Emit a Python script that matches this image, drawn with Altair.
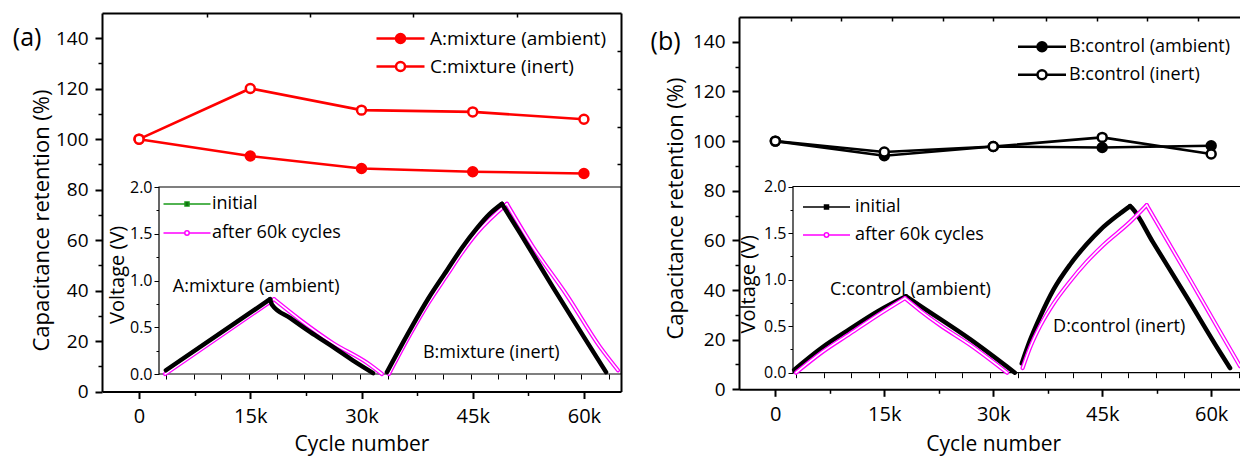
import altair as alt
import pandas as pd

FONT = "Open Sans"
W, H = 1240, 457

# ---------------- main panels: capacitance retention ----------------
cycles = [0, 15000, 30000, 45000, 60000]

a_series = ["A:mixture (ambient)", "C:mixture (inert)"]
a_ambient = [100, 93.3, 88.4, 87.1, 86.4]
a_inert = [100, 120.1, 111.5, 110.8, 107.9]

b_series = ["B:control (ambient)", "B:control (inert)"]
b_ambient = [100, 94.1, 97.8, 97.4, 98.1]
b_inert = [100, 95.6, 97.8, 101.5, 94.8]

panel_labels = ["(a)", "(b)"]
panel_label_cycle = [-15100, -15100]
panel_label_ret = [140, 140]

# ---------------- insets: charge/discharge voltage (time in tick units) ----------------
inset_series = ["initial", "after 60k cycles"]
inset_ytitle = "Voltage (V)"

# each inset curve is split in charge / discharge branches (peak shared)
a_init_seg = ["Ac"] * 2 + ["Ad"] * 7 + ["Bc"] * 8 + ["Bd"] * 5
a_init_t = [0.25, 4.01,
            4.01, 4.08, 4.73, 5.45, 6.28, 7.08, 7.73,
            8.23, 9.06, 9.73, 10.40, 10.94, 11.48, 11.93, 12.38,
            12.38, 13.03, 14.22, 15.31, 16.14]
a_init_v = [0.04, 0.80,
            0.80, 0.74, 0.60, 0.45, 0.29, 0.13, 0.01,
            0.02, 0.47, 0.81, 1.11, 1.35, 1.56, 1.71, 1.82,
            1.82, 1.51, 0.93, 0.41, 0.02]

a_after_seg = ["Ac"] * 2 + ["Ad"] * 5 + ["Bc"] * 7 + ["Bd"] * 5
a_after_t = [0.22, 4.15,
             4.15, 5.09, 6.28, 7.51, 8.05,
             8.30, 9.06, 9.73, 10.40, 10.94, 11.48, 12.56,
             12.56, 13.50, 14.73, 15.92, 16.57]
a_after_v = [0.00, 0.80,
             0.80, 0.58, 0.33, 0.12, 0.00,
             0.00, 0.42, 0.76, 1.06, 1.30, 1.51, 1.82,
             1.82, 1.36, 0.84, 0.29, 0.04]

b_init_seg = ["Cc"] * 5 + ["Cd"] * 4 + ["Dc"] * 9 + ["Dd"] * 6
b_init_t = [0.04, 1.05, 2.06, 3.07, 4.08,
            4.08, 4.58, 6.39, 8.01,
            8.26, 8.56, 8.92, 9.40, 10.00, 10.60, 11.08, 11.81, 12.17,
            12.17, 12.24, 13.00, 14.22, 15.42, 15.78]
b_init_v = [0.03, 0.27, 0.47, 0.66, 0.82,
            0.82, 0.72, 0.36, 0.00,
            0.10, 0.35, 0.60, 0.89, 1.16, 1.38, 1.53, 1.71, 1.79,
            1.79, 1.77, 1.40, 0.81, 0.22, 0.05]

b_after_seg = ["Cc"] * 5 + ["Cd"] * 5 + ["Dc"] * 9 + ["Dd"] * 4
b_after_t = [0.11, 1.05, 2.06, 3.07, 4.04,
             4.04, 4.58, 5.31, 6.39, 7.73,
             8.29, 8.56, 8.92, 9.40, 10.00, 10.60, 11.20, 12.17, 12.77,
             12.77, 14.22, 15.42, 16.14]
b_after_v = [0.00, 0.22, 0.42, 0.62, 0.80,
             0.80, 0.67, 0.51, 0.30, 0.00,
             0.05, 0.27, 0.50, 0.74, 0.98, 1.19, 1.37, 1.62, 1.80,
             1.80, 1.06, 0.44, 0.07]

a_notes = ["A:mixture (ambient)", "B:mixture (inert)"]
a_note_t = [0.50, 9.53]
a_note_v = [0.93, 0.22]
b_notes = ["C:control (ambient)", "D:control (inert)"]
b_note_t = [1.34, 9.39]
b_note_v = [0.885, 0.49]

# ---------------- layout (pixel ranges of each coordinate system) ----------------
PA = dict(mx_dom=[-5000, 65000], mx_rng=[102, 621], my_dom=[0, 150], my_rng=[391.5, 13],
          ix_dom=[0, 16.68], ix_rng=[159, 621], iy_dom=[0, 2], iy_rng=[374, 187])
PB = dict(mx_dom=[-5000, 65000], mx_rng=[739, 1247.5], my_dom=[0, 150], my_rng=[389.3, 17],
          ix_dom=[0, 16.41], ix_rng=[793, 1247.5], iy_dom=[0, 2], iy_rng=[372.7, 186.5])

PATH_MAIN = "M-4.8,0L-0.9,0M0.9,0L4.8,0M-0.9,0A0.9,0.9,0,1,1,0.9,0A0.9,0.9,0,1,1,-0.9,0Z"
PATH_SQ = "M-11.75,0L11.75,0M-1,-1L1,-1L1,1L-1,1Z"
PATH_CI = "M-11.75,0L-1.1,0M1.1,0L11.75,0M-1.1,0A1.1,1.1,0,1,1,1.1,0A1.1,1.1,0,1,1,-1.1,0Z"


def ax(orient, offset, values, tick=7, tickw=2.0, labels=True, domain=True, domw=2.0, **kw):
    return alt.Axis(orient=orient, offset=offset, values=values, tickSize=tick, tickWidth=tickw,
                    labels=labels, domain=domain, domainWidth=domw, domainColor="black",
                    tickColor="black", grid=False, labelColor="black", titleColor="black",
                    labelFont=FONT, titleFont=FONT, titleFontWeight="normal",
                    labelFlush=False, labelOverlap=False, **kw)


def X(field, dom, rng, axis=None):
    return alt.X(f"{field}:Q", scale=alt.Scale(domain=dom, range=rng, nice=False, zero=False), axis=axis)


def Y(field, dom, rng, axis=None):
    return alt.Y(f"{field}:Q", scale=alt.Scale(domain=dom, range=rng, nice=False, zero=False), axis=axis)


def main_df(series, amb, inert):
    return pd.DataFrame({"cycle": cycles * 2, "ret": amb + inert,
                         "series": [series[0]] * len(cycles) + [series[1]] * len(cycles)})


def inset_df(seg, t, v):
    return pd.DataFrame({"seg": seg, "t": t, "v": v})


def panel(P, series, amb, inert, color, label_idx, init, after, notes, init_color,
          leg_main, leg_in, top_ticks, right_ticks, ytitle_xy, vtitle_tv, black_on_top):
    layers = []
    dfm = main_df(series, amb, inert)
    xb_off = -(H - P["my_rng"][0])
    # main lines with major axes
    layers.append(alt.Chart(dfm).mark_line(color=color, strokeWidth=2.6).encode(
        x=X("cycle", P["mx_dom"], P["mx_rng"], ax(
            "bottom", xb_off, cycles, labelExpr="datum.value == 0 ? '0' : (datum.value / 1000) + 'k'",
            labelFontSize=20, labelPadding=8, title="Cycle number", titleFontSize=21,
            titleY=450.5 - P["my_rng"][0], titleBaseline="alphabetic")),
        y=Y("ret", P["my_dom"], P["my_rng"], ax(
            "left", -P["mx_rng"][0], list(range(0, 141, 20)), labelFontSize=19, labelPadding=7,
            title="Capacitance retention (%)", titleFontSize=22, titleX=ytitle_xy[0],
            titleY=ytitle_xy[1], titleAngle=270, titleBaseline="middle", titleAlign="center")),
        detail="series:N"))
    # points with legend, minor ticks
    layers.append(alt.Chart(dfm).mark_point(filled=True, shape="circle", size=80, stroke=color,
                                            strokeWidth=2.5, opacity=1).encode(
        x=X("cycle", P["mx_dom"], P["mx_rng"], ax("bottom", xb_off, [7500, 22500, 37500, 52500],
                                                   tick=4, tickw=1.5, labels=False, domain=False, title=None)),
        y=Y("ret", P["my_dom"], P["my_rng"], ax("left", -P["mx_rng"][0], list(range(10, 140, 20)),
                                                 tick=4, tickw=1.5, labels=False, domain=False, title=None)),
        fill=alt.Fill("series:N", scale=alt.Scale(domain=series, range=[color, "white"]),
                      legend=alt.Legend(orient="none", legendX=leg_main[0], legendY=leg_main[1], title=None,
                                        symbolType=PATH_MAIN, symbolSize=100, symbolStrokeColor=color,
                                        symbolStrokeWidth=2.5, symbolOpacity=1, labelFont=FONT,
                                        labelFontSize=leg_main[2], labelColor="black",
                                        labelOffset=leg_main[3], rowPadding=8, padding=0, labelLimit=0,
                                        direction="vertical"))))
    # panel label, with top border / right border axes
    dfl = pd.DataFrame({"cycle": [panel_label_cycle[label_idx]], "ret": [panel_label_ret[label_idx]],
                        "txt": [panel_labels[label_idx]]})
    yax = None
    if right_ticks:
        yax = ax("left", -P["mx_rng"][1], right_ticks, tick=4, tickw=1.5, labels=False, title=None)
    layers.append(alt.Chart(dfl).mark_text(font=FONT, fontSize=25, color="black", align="center",
                                           baseline="middle").encode(
        x=X("cycle", P["mx_dom"], P["mx_rng"], ax("bottom", -(H - P["my_rng"][1]), top_ticks, tick=4,
                                                   tickw=1.5, labels=False, title=None)),
        y=Y("ret", P["my_dom"], P["my_rng"], yax),
        text="txt:N"))
    # inset frame (white background), inset bottom ticks and minor y ticks
    dfr = pd.DataFrame({"t0": [P["ix_dom"][0]], "t1": [P["ix_dom"][1]], "v0": [0], "v1": [2]})
    t0 = P["ix_dom"][0] + (0.25 if label_idx == 0 else 0.11)
    tvals = [round(t0 + k, 2) for k in range(17)]
    layers.append(alt.Chart(dfr).mark_rect(fill="white", stroke="black", strokeWidth=1.2).encode(
        x=X("t0", P["ix_dom"], P["ix_rng"], ax("bottom", -(H - P["iy_rng"][0]), tvals, tick=5, tickw=1,
                                                labels=False, domain=False, title=None)),
        x2="t1:Q",
        y=Y("v0", P["iy_dom"], P["iy_rng"], ax("left", -P["ix_rng"][0], [0.25, 0.75, 1.25, 1.75], tick=3,
                                                tickw=1, labels=False, domain=False, title=None)),
        y2="v1:Q"))
    dfi = inset_df(*init)
    dfa = inset_df(*after)
    line_kw = dict(strokeJoin="round", strokeCap="round", interpolate="monotone")
    black = alt.Chart(dfi).mark_line(color="black", strokeWidth=4.5, **line_kw).encode(
        x=X("t", P["ix_dom"], P["ix_rng"]),
        y=Y("v", P["iy_dom"], P["iy_rng"], ax("left", -P["ix_rng"][0], [0, 0.5, 1.0, 1.5, 2.0], tick=5,
                                               tickw=1, domain=False, format=".1f", labelFontSize=16,
                                               labelPadding=2, title=None)),
        detail="seg:N")
    mag_o = alt.Chart(dfa).mark_line(color="#ff00ff", strokeWidth=4.2, **line_kw).encode(
        x=X("t", P["ix_dom"], P["ix_rng"]), y=Y("v", P["iy_dom"], P["iy_rng"]), detail="seg:N")
    mag_i = alt.Chart(dfa).mark_line(color="white", strokeWidth=1.6, **line_kw).encode(
        x=X("t", P["ix_dom"], P["ix_rng"]), y=Y("v", P["iy_dom"], P["iy_rng"]), detail="seg:N")
    if black_on_top:
        layers += [mag_o, mag_i, black]
    else:
        layers += [black, mag_o, mag_i]
    # inset y title
    dft = pd.DataFrame({"txt": [inset_ytitle], "t": [vtitle_tv[0]], "v": [vtitle_tv[1]]})
    layers.append(alt.Chart(dft).mark_text(font=FONT, fontSize=20, color="black", angle=270,
                                           align="center", baseline="middle").encode(
        x=X("t", P["ix_dom"], P["ix_rng"]), y=Y("v", P["iy_dom"], P["iy_rng"]), text="txt:N"))
    # inset legend (carried by invisible points)
    dfleg = pd.DataFrame({"s": inset_series, "t": [init[1][0], after[1][0]], "v": [init[2][0], after[2][0]]})
    leg = dict(orient="none", legendX=leg_in[0], legendY=leg_in[1], title=None, symbolSize=16,
               symbolStrokeWidth=1.5, symbolOpacity=1, labelFont=FONT, labelFontSize=18,
               labelColor="black", labelOffset=leg_in[2], rowPadding=leg_in[3], padding=0,
               labelLimit=0, direction="vertical")
    layers.append(alt.Chart(dfleg).mark_point(filled=True, opacity=0, size=16).encode(
        x=X("t", P["ix_dom"], P["ix_rng"]), y=Y("v", P["iy_dom"], P["iy_rng"]),
        fill=alt.Fill("s:N", scale=alt.Scale(domain=inset_series, range=["black", "white"]),
                      legend=alt.Legend(**leg)),
        stroke=alt.Stroke("s:N", scale=alt.Scale(domain=inset_series, range=[init_color, "#ff00ff"]),
                          legend=alt.Legend(**leg)),
        shape=alt.Shape("s:N", scale=alt.Scale(domain=inset_series, range=[PATH_SQ, PATH_CI]),
                        legend=alt.Legend(**leg))))
    # inset annotations
    dfn = pd.DataFrame({"txt": notes[0], "t": notes[1], "v": notes[2]})
    layers.append(alt.Chart(dfn).mark_text(font=FONT, fontSize=18, color="black", align="left",
                                           baseline="middle").encode(
        x=X("t", P["ix_dom"], P["ix_rng"]), y=Y("v", P["iy_dom"], P["iy_rng"]), text="txt:N"))
    return layers


layers = []
layers += panel(PA, a_series, a_ambient, a_inert, "#ff0000", 0,
                (a_init_seg, a_init_t, a_init_v), (a_after_seg, a_after_t, a_after_v),
                (a_notes, a_note_t, a_note_v), "#1a9a1a",
                leg_main=(391, 29, 19, 20), leg_in=(178, 195, 16, 11),
                top_ticks=[9200, 23000, 37000, 51000], right_ticks=[90, 105, 120, 135],
                ytitle_xy=(-61, 220), vtitle_tv=(-1.47, 1.06), black_on_top=True)
layers += panel(PB, b_series, b_ambient, b_inert, "#000000", 1,
                (b_init_seg, b_init_t, b_init_v), (b_after_seg, b_after_t, b_after_v),
                (b_notes, b_note_t, b_note_v), "#000000",
                leg_main=(1033, 37.7, 18, 18), leg_in=(817.5, 198, 19.5, 10),
                top_ticks=[2100, 9100, 16100, 23100, 30000, 37200, 44300, 51200, 58200], right_ticks=None,
                ytitle_xy=(-64, 208), vtitle_tv=(-1.58, 0.95), black_on_top=False)

chart = alt.layer(*layers).resolve_scale(
    x="independent", y="independent", fill="independent", stroke="independent", shape="independent"
).resolve_axis(x="independent", y="independent").resolve_legend(
    fill="independent", stroke="independent", shape="independent"
).properties(
    width=W, height=H, padding=0, autosize=alt.AutoSizeParams(type="none"), background="white"
).configure_view(strokeWidth=0).configure_axis(grid=False)

chart.save("out.html", embed_options={"renderer": "svg", "actions": False})
